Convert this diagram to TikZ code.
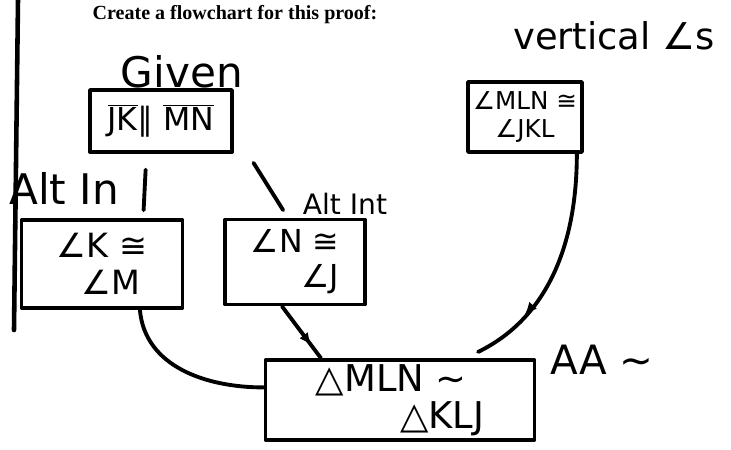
\documentclass[tikz,border=0pt]{standalone}
\usepackage{fontspec}
\setmainfont{Liberation Serif}
\newfontfamily\handfont{DejaVu Sans}
\usetikzlibrary{calc,arrows.meta,decorations.markings}

\tikzset{
  pen/.style={line width=2.2pt, line cap=round, line join=round},
  proofbox/.style={pen, draw, inner sep=2pt},
  hand/.style={font=\handfont\fontsize{#1}{#1}\selectfont},
  midarrow/.style={postaction={decorate}, decoration={markings,
    mark=at position #1 with {\arrow{Latex[length=7pt,width=6pt]}}}}
}

\begin{document}
\begin{tikzpicture}[x=0.02cm, y=-0.02cm]
\useasboundingbox (0,0) rectangle (731,450);
% margin line on the left
\draw [pen, line width=2.6pt] (18,0) -- (14,330);
\node [font=\bfseries\fontsize{11.4}{13}\selectfont] (title) at (235,15) {Create a flowchart for this proof:};
% statements
\node [proofbox, minimum width=2.84cm, minimum height=1.24cm] (given) at (161,121)
  {\handfont\fontsize{18}{18}\selectfont $\overline{\mbox{JK}}$∥ $\overline{\mbox{MN}}$};
\node [proofbox, minimum width=2.28cm, minimum height=1.40cm, align=center,
  font=\handfont\fontsize{14}{16}\selectfont] (vert) at (525,117) {∠MLN ≅\\∠JKL};
\node [proofbox, minimum width=3.22cm, minimum height=1.76cm, align=right,
  font=\handfont\fontsize{19}{21}\selectfont] (kbox) at (102,264) {∠K ≅\\∠M\hspace*{4pt}};
\node [proofbox, minimum width=2.8cm, minimum height=1.7cm, align=right,
  font=\handfont\fontsize{18}{20}\selectfont] (nbox) at (295,262) {∠N ≅\\∠J};
\node [proofbox, minimum width=5.38cm, minimum height=1.6cm, align=left,
  font=\handfont\fontsize{21}{21}\selectfont] (sim) at (400,400) {△MLN ∼\\\hspace*{48pt}△KLJ};
% reasons
\node [hand=24] (givenlbl) at (182,72) {Given};
\node [hand=21] (vertlbl) at (614,36) {vertical ∠s};
\node [hand=24] (altlbl) at (64,188) {Alt In};
\node [hand=16] (altintlbl) at (345,204) {Alt Int};
\node [hand=23] (aalbl) at (602,360) {AA ∼};
% connectors
\draw [pen, shorten <=9pt, shorten >=4.5pt] ($(given.south west)!0.4!(given.south east)$)
  -- ($(kbox.north west)!0.75!(kbox.north east)$);
\draw [pen, shorten <=6pt, shorten >=5pt] ($(given.south east)+(14,0)$)
  -- ($(nbox.north west)!0.45!(nbox.north east)$);
\draw [pen] ($(kbox.south west)!0.73!(kbox.south east)$) to [out=-85, in=180]
  ($(sim.north west)!0.35!(sim.south west)$);
\draw [pen, midarrow=0.75] ($(nbox.south west)!0.41!(nbox.south east)$)
  -- ($(sim.north west)!0.21!(sim.north east)$);
\draw [pen, midarrow=0.7, shorten >=8pt] ($(vert.south west)!0.94!(vert.south east)$)
  to [out=-90, in=26] ($(sim.north west)!0.74!(sim.north east)$);
\end{tikzpicture}
\end{document}
